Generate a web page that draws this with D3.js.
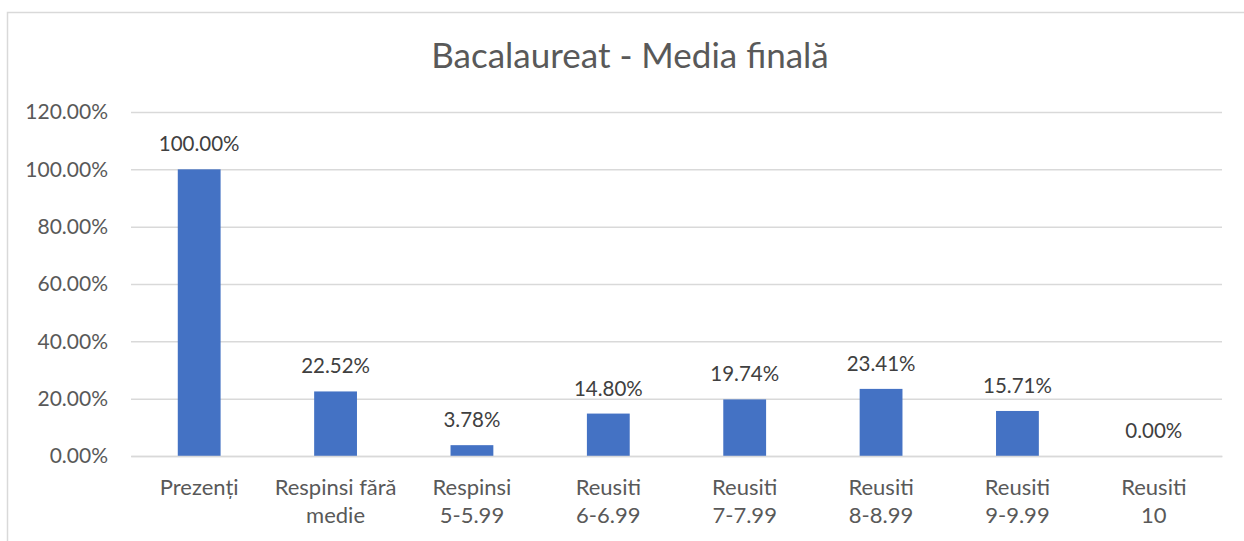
<!DOCTYPE html>
<html>
<head>
<meta charset="utf-8">
<style>
  body { margin: 0; background: #fff; }
  text { font-family: Lato, "Open Sans", sans-serif; }
</style>
<script src="https://cdn.jsdelivr.net/npm/d3@7"></script>
</head>
<body>
<div id="chart"></div>
<script>
// data
var categories = ["Prezenți", "Respinsi fără\nmedie", "Respinsi\n5-5.99", "Reusiti\n6-6.99",
                  "Reusiti\n7-7.99", "Reusiti\n8-8.99", "Reusiti\n9-9.99", "Reusiti\n10"];
var values = [100.00, 22.52, 3.78, 14.80, 19.74, 23.41, 15.71, 0.00];
var yTicks = [0, 20, 40, 60, 80, 100, 120];
var title = "Bacalaureat - Media finală";

// set the dimensions and margins of the graph
var W = 1244, H = 541;
var margin = {top: 112, right: 22, bottom: 85, left: 131},
    width = W - margin.left - margin.right,
    height = H - margin.top - margin.bottom;

var svg = d3.select("#chart").append("svg")
    .attr("width", W)
    .attr("height", H);

// chart frame (runs off the right and bottom edges)
svg.append("rect")
    .attr("x", 7.5).attr("y", 12.5)
    .attr("width", W + 20).attr("height", H + 20)
    .attr("fill", "none")
    .attr("stroke", "#d9d9d9")
    .attr("stroke-width", 1.5);

// title
svg.append("text")
    .attr("x", 630).attr("y", 68)
    .attr("text-anchor", "middle")
    .attr("font-size", 35)
    .attr("fill", "#595959")
    .text(title);

var g = svg.append("g")
    .attr("transform", "translate(" + margin.left + "," + margin.top + ")");

// set the ranges
var x = d3.scaleBand()
    .domain(categories)
    .range([0, width])
    .paddingInner(0.686)
    .paddingOuter(0.343);

var y = d3.scaleLinear()
    .domain([0, 120])
    .range([height, 0]);

// y axis with gridlines
var yAxis = g.append("g")
    .call(d3.axisLeft(y).tickValues(yTicks).tickSize(-width)
      .tickFormat(function(d) { return d.toFixed(2) + "%"; }));
yAxis.select(".domain").remove();
yAxis.selectAll(".tick line")
    .attr("stroke", "#d9d9d9")
    .attr("stroke-width", 1.5);
yAxis.selectAll(".tick text")
    .attr("x", -23)
    .attr("font-size", 21)
    .attr("font-family", "Lato, sans-serif")
    .attr("fill", "#595959");

// bars
g.selectAll(".bar")
    .data(values)
  .enter().append("rect")
    .attr("class", "bar")
    .attr("x", function(d, i) { return x(categories[i]); })
    .attr("width", x.bandwidth())
    .attr("y", function(d) { return y(d); })
    .attr("height", function(d) { return height - y(d); })
    .attr("fill", "#4472c4");

// data labels
g.selectAll(".label")
    .data(values)
  .enter().append("text")
    .attr("class", "label")
    .attr("x", function(d, i) { return x(categories[i]) + x.bandwidth() / 2; })
    .attr("y", function(d) { return y(d) - 18; })
    .attr("text-anchor", "middle")
    .attr("font-size", 20.5)
    .attr("fill", "#404040")
    .text(function(d) { return d.toFixed(2) + "%"; });

// x axis category labels (two lines)
var xAxis = g.append("g")
    .attr("transform", "translate(0," + height + ")")
    .call(d3.axisBottom(x).tickSize(0).tickFormat(""));
xAxis.select(".domain")
    .attr("stroke", "#d9d9d9")
    .attr("stroke-width", 1.5);

xAxis.selectAll(".tick").each(function(d) {
  var lines = d.split("\n");
  var t = d3.select(this).append("text")
      .attr("text-anchor", "middle")
      .attr("font-size", 22)
      .attr("font-family", "Lato, sans-serif")
      .attr("fill", "#595959");
  lines.forEach(function(s, k) {
    t.append("tspan").attr("x", 0).attr("y", 39 + k * 28).text(s);
  });
});
</script>
</body>
</html>
